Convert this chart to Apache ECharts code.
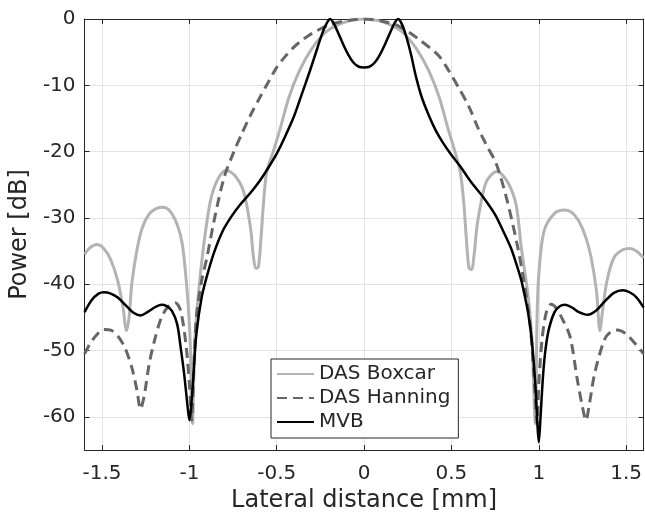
<!DOCTYPE html>
<html>
<head>
<meta charset="utf-8">
<script src="https://cdn.jsdelivr.net/npm/echarts@6/dist/echarts.min.js"></script>
<style>
html,body{margin:0;padding:0;background:#fff;}
#chart{width:645px;height:518px;}
</style>
</head>
<body>
<div id="chart"></div>
<script>
// ---- data ----
const seriesNames = ['DAS Boxcar', 'DAS Hanning', 'MVB'];

const boxcarX = [-1.6,-1.57,-1.53,-1.49,-1.45,-1.41,-1.38,-1.36,-1.345,-1.33,-1.30,-1.27,-1.23,-1.19,-1.15,-1.11,-1.07,-1.04,-1.01,-0.995,-0.982,-0.97,-0.95,-0.92,-0.88,-0.84,-0.79,-0.74,-0.69,-0.65,-0.635,-0.62,-0.605,-0.59,-0.575,-0.557,-0.52,-0.48,-0.43,-0.37,-0.3,-0.22,-0.15,-0.08,0,
  0.08,0.15,0.22,0.3,0.37,0.43,0.48,0.52,0.55,0.57,0.585,0.6,0.615,0.63,0.645,0.66,0.7,0.76,0.82,0.87,0.9,0.94,0.96,0.98,0.99,1.0,1.03,1.09,1.15,1.19,1.23,1.27,1.30,1.33,1.35,1.365,1.39,1.43,1.48,1.52,1.56,1.6];
const boxcarY = [-35.5,-34.5,-34.0,-34.6,-36.3,-39.5,-43.5,-47.0,-45,-40,-34.8,-31.5,-29.4,-28.6,-28.4,-29.0,-31.0,-34.0,-42,-49,-61,-49,-42,-34.5,-27.5,-24.3,-22.8,-23.6,-26,-31.5,-35.5,-37.6,-37.4,-33,-27.5,-23,-20,-16.5,-11.8,-7.8,-4.5,-2.0,-0.9,-0.25,0,
  -0.25,-0.9,-2.0,-4.5,-7.8,-11.8,-16.5,-20,-23,-27.5,-33,-37.5,-37.8,-35.5,-31.5,-29,-24.5,-23,-24.5,-28,-34.5,-42,-48,-61,-45,-38.5,-32,-29.3,-28.8,-29.2,-30.5,-33,-36,-41,-47,-44,-39.5,-36,-34.8,-34.6,-35,-36];

const hanningX = [-1.6,-1.57,-1.53,-1.49,-1.45,-1.41,-1.37,-1.33,-1.30,-1.28,-1.26,-1.23,-1.20,-1.16,-1.12,-1.08,-1.05,-1.02,-1.0,-0.987,-0.975,-0.96,-0.93,-0.9,-0.85,-0.8,-0.75,-0.7,-0.65,-0.6,-0.55,-0.5,-0.45,-0.4,-0.35,-0.3,-0.2,-0.1,0,
  0.1,0.2,0.31,0.426,0.48,0.54,0.6,0.65,0.7,0.756,0.82,0.88,0.92,0.95,0.975,0.99,1.0,1.02,1.045,1.07,1.1,1.14,1.18,1.22,1.25,1.27,1.29,1.32,1.375,1.41,1.45,1.5,1.55,1.6];
const hanningY = [-50.5,-49.0,-47.6,-46.8,-46.9,-47.8,-49.5,-52.5,-56,-58.8,-57,-52,-48.5,-45,-43.3,-42.8,-44,-49,-55,-60.5,-53,-45,-39.5,-36,-29.3,-23.8,-20.3,-17.3,-14.5,-12,-9.6,-7.3,-5.6,-4.2,-3.1,-2.2,-0.9,-0.25,0,
  -0.3,-1.1,-3.0,-5.5,-7.6,-10.3,-13.2,-16.3,-19,-21.8,-27.5,-34.5,-40.4,-46,-55,-61,-55,-48,-44,-43,-43.6,-45.5,-48,-54.3,-58.5,-60.5,-58,-53.4,-48.4,-47.2,-46.9,-47.5,-48.9,-50.5];

const mvbX = [-1.6,-1.56,-1.52,-1.49,-1.45,-1.41,-1.36,-1.32,-1.28,-1.24,-1.2,-1.16,-1.13,-1.1,-1.07,-1.05,-1.03,-1.01,-1.0,-0.99,-0.975,-0.96,-0.93,-0.9,-0.86,-0.81,-0.76,-0.71,-0.65,-0.6,-0.55,-0.5,-0.45,-0.4,-0.36,-0.31,-0.27,-0.24,-0.215,-0.195,-0.175,-0.15,-0.12,-0.09,-0.06,-0.03,0,
  0.03,0.06,0.09,0.12,0.15,0.175,0.195,0.215,0.24,0.27,0.295,0.33,0.37,0.41,0.45,0.5,0.55,0.61,0.68,0.75,0.8,0.84,0.87,0.9,0.92,0.94,0.96,0.98,0.993,1.0,1.01,1.025,1.04,1.06,1.09,1.12,1.15,1.19,1.23,1.28,1.33,1.38,1.43,1.48,1.52,1.56,1.6];
const mvbY = [-44.2,-42.4,-41.4,-41.2,-41.4,-42,-43.3,-44.3,-44.7,-44.2,-43.5,-43.1,-43.3,-44,-46,-49.5,-53.5,-58.5,-60.5,-58.5,-53,-47.5,-42,-38.8,-35.3,-32,-29.8,-28,-26.2,-24.5,-22.5,-20.3,-17.6,-14.6,-11.6,-7.8,-4.6,-2.2,-0.7,0,-0.6,-2.0,-3.8,-5.4,-6.6,-7.2,-7.3,
  -7.2,-6.6,-5.4,-3.8,-2.0,-0.6,0,-0.7,-2.5,-5.5,-8.5,-11.8,-14.5,-16.8,-18.6,-20.5,-22.2,-24.5,-26.8,-29.5,-32.2,-34.5,-36.8,-39.4,-41.8,-44.5,-48.5,-55,-61.5,-63.8,-60,-53.5,-49.5,-46.5,-44.2,-43.3,-43.1,-43.5,-44.2,-44.6,-43.9,-42.5,-41.3,-40.9,-41.2,-42,-43.5];

const xTicks = [-1.5,-1,-0.5,0,0.5,1,1.5];
const yTicks = [-60,-50,-40,-30,-20,-10,0];

// ---- chart ----
const zip = (xs, ys) => xs.map((x, i) => [x, ys[i]]);
const axisColor = '#262626';
const gridColor = '#e3e3e3';
const FONT = 'DejaVu Sans';

const chart = echarts.init(document.getElementById('chart'), null, {renderer: 'canvas'});
const baseX = {
  type: 'value', min: -1.6, max: 1.6,
  axisLine: {show: true, onZero: false, lineStyle: {color: axisColor, width: 1}},
  axisTick: {show: true, inside: true, length: 5, customValues: xTicks, lineStyle: {color: axisColor}},
};
const baseY = {
  type: 'value', min: -65, max: 0,
  axisLine: {show: true, onZero: false, lineStyle: {color: axisColor, width: 1}},
  axisTick: {show: true, inside: true, length: 5, customValues: yTicks, lineStyle: {color: axisColor}},
};
chart.setOption({
  animation: false,
  backgroundColor: '#fff',
  grid: {left: 83, top: 19, width: 564, height: 435, containLabel: false},
  xAxis: [
    Object.assign({}, baseX, {
      position: 'bottom',
      name: 'Lateral distance [mm]', nameLocation: 'middle', nameGap: 37,
      nameTextStyle: {fontFamily: FONT, fontSize: 24, color: axisColor},
      axisLabel: {customValues: xTicks, margin: 14, fontFamily: FONT, fontSize: 20, color: axisColor},
      splitLine: {show: true, lineStyle: {color: gridColor, width: 1}}
    }),
    Object.assign({}, baseX, {
      position: 'top', axisLabel: {show: false}, splitLine: {show: false}
    })
  ],
  yAxis: [
    Object.assign({}, baseY, {
      position: 'left',
      name: 'Power [dB]', nameLocation: 'middle', nameGap: 51,
      nameTextStyle: {fontFamily: FONT, fontSize: 24, color: axisColor},
      axisLabel: {customValues: yTicks, margin: 9, fontFamily: FONT, fontSize: 20, color: axisColor},
      splitLine: {show: true, lineStyle: {color: gridColor, width: 1}}
    }),
    Object.assign({}, baseY, {
      position: 'right', axisLabel: {show: false}, splitLine: {show: false}
    })
  ],
  legend: {
    orient: 'vertical', left: 271, top: 359,
    data: seriesNames,
    itemWidth: 37, itemHeight: 14, itemGap: 4,
    padding: [5, 8, 6, 5],
    itemStyle: {opacity: 0, borderWidth: 0},
    backgroundColor: '#fff', borderColor: axisColor, borderWidth: 1, borderRadius: 0,
    textStyle: {fontFamily: FONT, fontSize: 20, color: axisColor, lineHeight: 20}
  },
  series: [
    {name: seriesNames[0], type: 'line', data: zip(boxcarX, boxcarY), showSymbol: false, symbol: 'none',
     smooth: 0.3, lineStyle: {color: '#b3b3b3', width: 3}, itemStyle: {color: '#b3b3b3'}, z: 2},
    {name: seriesNames[1], type: 'line', data: zip(hanningX, hanningY), showSymbol: false, symbol: 'none',
     smooth: 0.3, lineStyle: {color: '#666666', width: 3, type: [10, 6]}, itemStyle: {color: '#666666'}, z: 3},
    {name: seriesNames[2], type: 'line', data: zip(mvbX, mvbY), showSymbol: false, symbol: 'none',
     smooth: 0.3, lineStyle: {color: '#000000', width: 2.5}, itemStyle: {color: '#000000'}, z: 4}
  ]
});
</script>
</body>
</html>
